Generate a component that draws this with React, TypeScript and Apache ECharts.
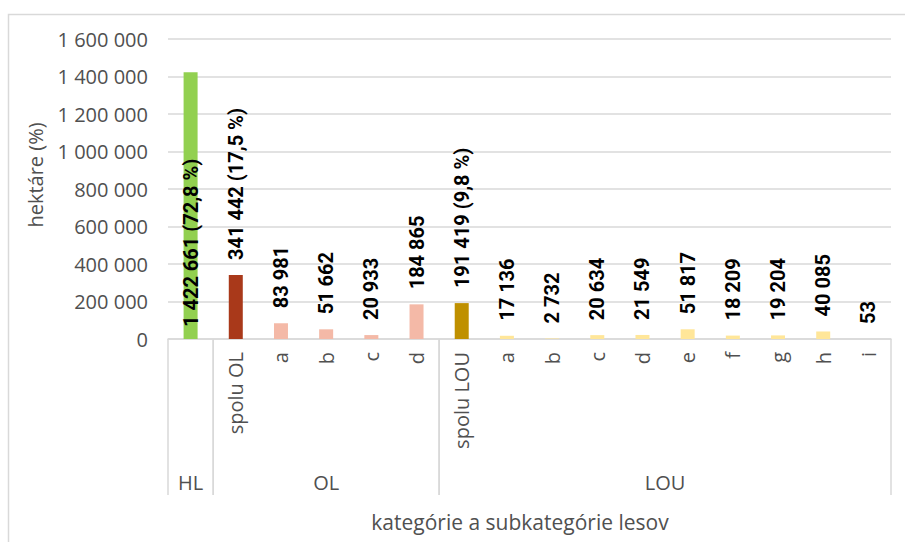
import React, { useEffect, useRef } from "react";
import * as echarts from "echarts";

const categories = ["HL", "spolu OL", "a", "b", "c", "d", "spolu LOU", "a", "b", "c", "d", "e", "f", "g", "h", "i"];
const values = [1422661, 341442, 83981, 51662, 20933, 184865, 191419, 17136, 2732, 20634, 21549, 51817, 18209, 19204, 40085, 53];
const shares = ["72,8", "17,5", "", "", "", "", "9,8", "", "", "", "", "", "", "", "", ""];
const barColors = ["#92D050", "#A9391A", "#F4B9A7", "#F4B9A7", "#F4B9A7", "#F4B9A7", "#BF9000", "#FFE699", "#FFE699", "#FFE699", "#FFE699", "#FFE699", "#FFE699", "#FFE699", "#FFE699", "#FFE699"];
const groups = ["HL", "OL", "LOU"];
const groupStart = [0, 1, 6];
const groupEnd = [0, 5, 15];
const yTicks = [0, 200000, 400000, 600000, 800000, 1000000, 1200000, 1400000, 1600000];

const FONT = "'Open Sans', sans-serif";
const TXT = "#505050";
const GRID = "#D9D9D9";

const fmt = (n: number) => String(n).replace(/\B(?=(\d{3})+(?!\d))/g, " ");

export default function App() {
  const ref = useRef<HTMLDivElement>(null);
  useEffect(() => {
    const chart = echarts.init(ref.current!, undefined, { renderer: "svg" });
    const option: any = {
      animation: false,
      backgroundColor: "#fff",
      grid: { left: 168, right: 14, top: 39, bottom: 203, containLabel: false },
      xAxis: {
        type: "category",
        data: categories,
        axisLine: { show: true, lineStyle: { color: GRID, width: 1.5 } },
        axisTick: { show: false },
        axisLabel: {
          interval: 0,
          rotate: 90,
          margin: 13,
          color: TXT,
          fontFamily: FONT,
          fontSize: 20,
          formatter: (v: string, i: number) => (i === 0 ? "" : v),
        },
      },
      yAxis: {
        type: "value",
        min: yTicks[0],
        max: yTicks[yTicks.length - 1],
        interval: yTicks[1] - yTicks[0],
        axisLine: { show: false },
        axisTick: { show: false },
        splitLine: { lineStyle: { color: GRID, width: 1.5 } },
        axisLabel: {
          margin: 20,
          color: TXT,
          fontFamily: FONT,
          fontSize: 20,
          formatter: (v: number) => fmt(v),
        },
      },
      series: [
        {
          type: "bar",
          barWidth: 14,
          data: values.map((v, i) => ({
            value: v,
            itemStyle: { color: barColors[i] },
            label: i === 0 ? { position: "insideBottom", distance: 12 } : undefined,
          })),
          label: {
            show: true,
            position: "top",
            distance: 15,
            rotate: 90,
            align: "left",
            verticalAlign: "middle",
            color: "#000",
            fontFamily: "Roboto, sans-serif",
            fontWeight: "bold",
            fontSize: 20,
            formatter: (p: any) =>
              fmt(values[p.dataIndex]) + (shares[p.dataIndex] ? ` (${shares[p.dataIndex]} %)` : ""),
          },
        },
        {
          type: "custom",
          silent: true,
          clip: false,
          encode: { x: [0, 1], y: 2 },
          data: groups.map((g, i) => [groupStart[i], groupEnd[i], 0]),
          renderItem: (params: any, api: any) => {
            const s = api.value(0);
            const e = api.value(1);
            const bw = api.size([1, 0])[0];
            const p0 = api.coord([s, 0]);
            const p1 = api.coord([e, 0]);
            const x0 = p0[0] - bw / 2;
            const x1 = p1[0] + bw / 2;
            const y = p0[1];
            return {
              type: "group",
              children: [
                { type: "line", shape: { x1: x0, y1: y, x2: x0, y2: y + 156 }, style: { stroke: GRID, lineWidth: 1.5 } },
                { type: "line", shape: { x1: x1, y1: y, x2: x1, y2: y + 156 }, style: { stroke: GRID, lineWidth: 1.5 } },
                {
                  type: "text",
                  x: (x0 + x1) / 2,
                  y: y + 143,
                  style: {
                    text: groups[params.dataIndex],
                    align: "center",
                    verticalAlign: "middle",
                    fill: TXT,
                    fontFamily: FONT,
                    fontSize: 20,
                  },
                },
              ],
            };
          },
        },
      ],
      graphic: [
        {
          type: "rect",
          left: 6,
          top: 12,
          shape: { x: 0, y: 0, width: 910, height: 545 },
          style: { fill: "none", stroke: GRID, lineWidth: 1.5 },
          silent: true,
        },
        {
          type: "text",
          x: 35,
          y: 175,
          rotation: Math.PI / 2,
          style: {
            text: "hektáre (%)",
            align: "center",
            verticalAlign: "middle",
            fill: TXT,
            fontFamily: FONT,
            fontSize: 20,
          },
        },
        {
          type: "text",
          x: 520,
          y: 522,
          style: {
            text: "kategórie a subkategórie lesov",
            align: "center",
            verticalAlign: "middle",
            fill: TXT,
            fontFamily: FONT,
            fontSize: 21,
          },
        },
      ],
    };
    chart.setOption(option);
    return () => chart.dispose();
  }, []);
  return (
    <div
      ref={ref}
      style={{ position: "fixed", left: 0, top: 0, width: 905, height: 542 }}
    />
  );
}
